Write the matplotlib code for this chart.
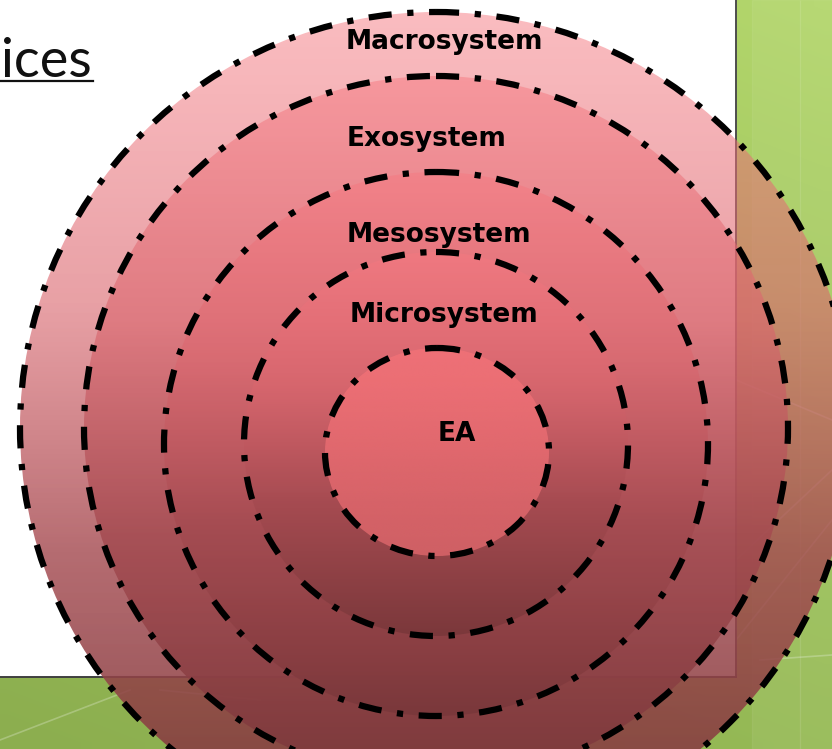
import numpy as np
import matplotlib.pyplot as plt
from matplotlib.patches import Ellipse, Rectangle
from matplotlib.colors import LinearSegmentedColormap

# nested rings, outermost first (pixel units of the slide)
labels = ["Macrosystem", "Exosystem", "Mesosystem", "Microsystem", "EA"]
centers_x = [436, 436, 436, 436, 437]
centers_y = [428, 428, 444, 444, 452]
radii_x = [416, 352, 272, 192, 112]
radii_y = [416, 352, 272, 192, 104]
label_x = [346, 347, 347, 350, 438]
label_y = [42, 139, 235, 315, 434]

heading = "ices"

W, H = 832, 749
panel_w, panel_h = 736, 677

# shared ring fill: colour + alpha stops down the shape
stops_t = [0.0, 0.35, 0.65, 1.0]
stops_rgb = [(247, 121, 129), (218, 102, 110), (165, 75, 81), (122, 56, 59)]
stops_a = [0.50, 0.62, 0.82, 0.93]
ea_rgb = (251, 117, 122)
ea_a = 0.58


def ring_gradient(n=256, solid=None):
    t = np.linspace(0, 1, n)
    g = np.zeros((n, 2, 4))
    if solid is None:
        for c in range(3):
            g[:, :, c] = np.interp(t, stops_t, [s[c] / 255 for s in stops_rgb])[:, None]
        g[:, :, 3] = np.interp(t, stops_t, stops_a)[:, None]
    else:
        g[:, :, :3] = np.array(solid[0]) / 255
        g[:, :, 3] = solid[1]
    return g


fig = plt.figure(figsize=(W / 100, H / 100), dpi=100)
ax = fig.add_axes([0, 0, 1, 1])
ax.set_xlim(0, W)
ax.set_ylim(H, 0)
ax.axis("off")

# green slide background
green = LinearSegmentedColormap.from_list("g", ["#b3d66c", "#9cc25a", "#8cae4f"])
yy, xx = np.mgrid[0:1:60j, 0:1:60j]
ax.imshow(0.7 * yy + 0.3 * (1 - xx), cmap=green, extent=(0, W, H, 0),
          aspect="auto", interpolation="bilinear", zorder=0)
for (x0, y0, x1, y1) in [(736, 380, 832, 420), (736, 640, 832, 520), (0, 740, 130, 690),
                         (160, 690, 260, 700), (760, 660, 832, 655), (736, 560, 832, 470)]:
    ax.plot([x0, x1], [y0, y1], color="white", alpha=0.25, lw=1.2, zorder=0.5)
for xs in [752, 800]:
    ax.axvspan(xs, xs + 48, color="white", alpha=0.06, zorder=0.5)

# white content panel with its dark edge
ax.add_patch(Rectangle((0, 0), panel_w, panel_h, facecolor="white", edgecolor="none", zorder=1))
ax.plot([panel_w, panel_w], [0, panel_h], color="#4d4d4d", lw=1.4, zorder=1.1)
ax.plot([0, panel_w], [panel_h, panel_h], color="#3f3f3f", lw=1.4, zorder=1.1)

# heading fragment, underlined
ax.text(92, 77, heading, ha="right", va="baseline", fontsize=39, family="Lato",
        fontweight="normal", color="#111111", zorder=2)
ax.plot([0, 93], [81, 81], color="#111111", lw=1.6, zorder=2)

# rings
for i, name in enumerate(labels):
    cx, cy, rx, ry = centers_x[i], centers_y[i], radii_x[i], radii_y[i]
    z = 3 + i
    solid = (ea_rgb, ea_a) if name == "EA" else None
    im = ax.imshow(ring_gradient(solid=solid), extent=(cx - rx, cx + rx, cy + ry, cy - ry),
                   aspect="auto", interpolation="bilinear", zorder=z)
    clip = Ellipse((cx, cy), 2 * rx, 2 * ry, transform=ax.transData)
    im.set_clip_path(clip)
    ax.add_patch(Ellipse((cx, cy), 2 * rx, 2 * ry, facecolor="none", edgecolor="black",
                         lw=4.5, linestyle=(0, (3.7, 2.5, 1.0, 2.5)), zorder=z + 0.5))

for i, name in enumerate(labels):
    ax.text(label_x[i], label_y[i], name, ha="left", va="center", fontsize=19,
            fontweight="bold", family="DejaVu Sans", color="black", zorder=20)

fig.savefig("out.png", dpi=100)
